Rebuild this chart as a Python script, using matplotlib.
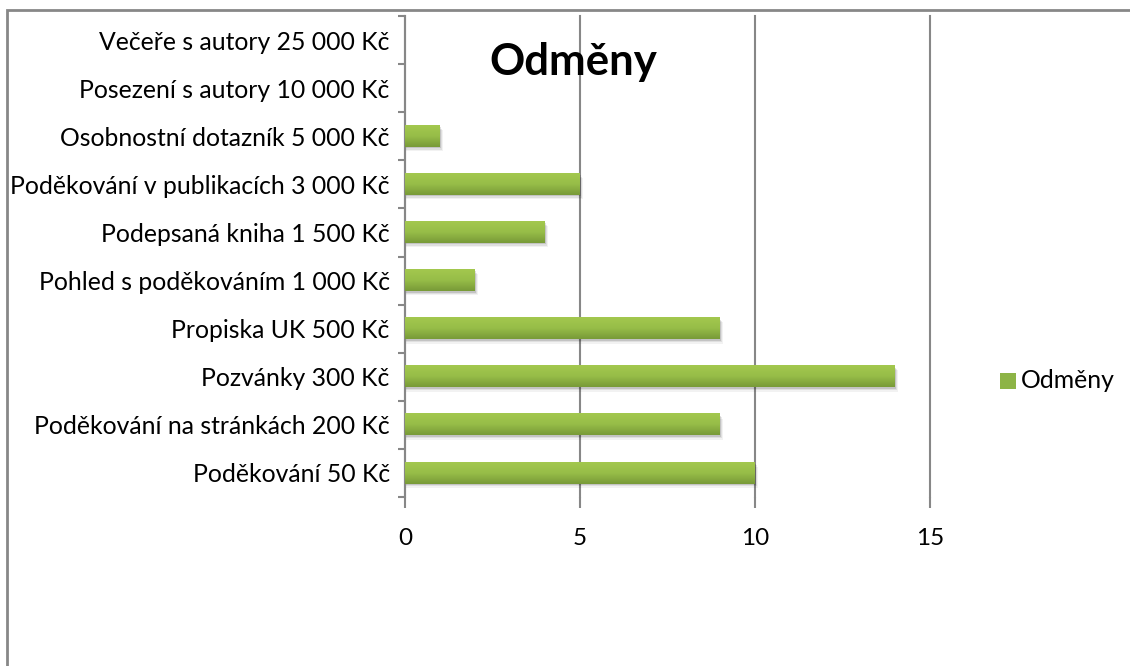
import numpy as np
import matplotlib
matplotlib.use("Agg")
import matplotlib.pyplot as plt
from matplotlib.patches import Rectangle
from matplotlib.colors import LinearSegmentedColormap

# data (bottom to top as drawn)
categories = [
    "Poděkování 50 Kč",
    "Poděkování na stránkách 200 Kč",
    "Pozvánky 300 Kč",
    "Propiska UK 500 Kč",
    "Pohled s poděkováním 1 000 Kč",
    "Podepsaná kniha 1 500 Kč",
    "Poděkování v publikacích 3 000 Kč",
    "Osobnostní dotazník 5 000 Kč",
    "Posezení s autory 10 000 Kč",
    "Večeře s autory 25 000 Kč",
]
values = [10, 9, 14, 9, 2, 4, 5, 1, 0, 0]
series_name = "Odměny"
x_ticks = [0, 5, 10, 15]

plt.rcParams['font.family'] = ['Lato', 'DejaVu Sans']

fig = plt.figure(figsize=(11.3, 6.66), dpi=100)
ax = fig.add_axes([405/1130, 169/666, 525/1130, 481/666])

grey = "#878787"
bar_h = 0.44
green_cmap = LinearSegmentedColormap.from_list("g", ["#a3c84e", "#97bd48", "#789a38"])
grad = np.linspace(0, 1, 64).reshape(-1, 1)

ypos = np.arange(len(categories))
for y, v in zip(ypos, values):
    if v <= 0:
        continue
    # soft shadow
    for k, a in enumerate([0.12, 0.08, 0.05]):
        off = 0.03 + 0.03 * k
        ax.add_patch(Rectangle((0, y - bar_h / 2 - off), v + 0.03 + 0.03 * k, bar_h,
                               facecolor="black", alpha=a, edgecolor="none", zorder=2))
    ax.imshow(grad, cmap=green_cmap, aspect="auto", origin="upper",
              extent=(0, v, y - bar_h / 2, y + bar_h / 2), zorder=3)

ax.set_xlim(0, 15)
ax.set_ylim(-0.5, len(categories) - 0.5)

ax.set_xticks(x_ticks)
ax.set_xticklabels([str(t) for t in x_ticks], fontsize=17.5)
ax.xaxis.grid(True, color=grey, linewidth=1.5, zorder=1)
ax.set_axisbelow(True)
ax.tick_params(axis="x", length=8, width=1.5, color=grey, pad=14)
for gl in ax.get_xgridlines():
    gl.set_clip_on(False)

ax.set_yticks(np.arange(len(categories) + 1) - 0.5)
ax.set_yticklabels([])
ax.set_yticks(ypos, minor=True)
ax.set_yticklabels(categories, minor=True, fontsize=17.8)
ax.tick_params(axis="y", which="major", length=5, width=1.5, color=grey)
ax.tick_params(axis="y", which="minor", length=0, pad=11)

for s in ["top", "right", "bottom"]:
    ax.spines[s].set_visible(False)
ax.spines["left"].set_color(grey)
ax.spines["left"].set_linewidth(1.5)

ax.text(0.32, 0.904, series_name, transform=ax.transAxes, fontsize=31.5,
        fontweight="bold", ha="center", va="center", zorder=5)

# legend
fig.patches.append(Rectangle((1000/1130, (666-389)/666), 16/1130, 16/666,
                             transform=fig.transFigure, facecolor="#8db446",
                             edgecolor="none"))
fig.text(1021/1130, (666-381)/666, series_name, fontsize=17.8, va="center", ha="left")

# outer chart frame (only top and left edges visible)
fig.patches.append(Rectangle((6.5/1130, -0.1), 1.2, (666-9.5)/666 + 0.1,
                             transform=fig.transFigure, facecolor="none",
                             edgecolor=grey, linewidth=2))

fig.savefig("out.png", dpi=100)
